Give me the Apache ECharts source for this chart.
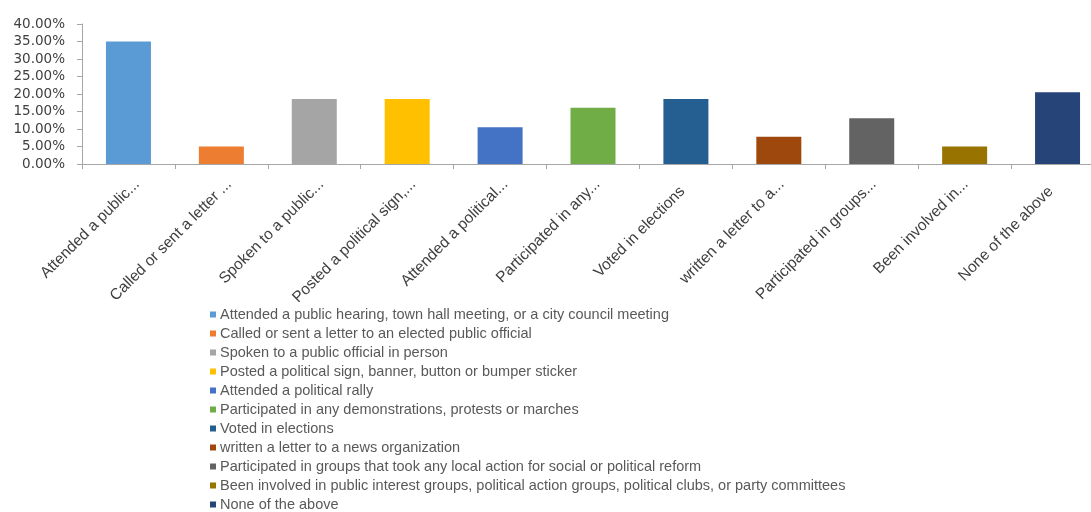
<!DOCTYPE html>
<html>
<head>
<meta charset="utf-8">
<script src="https://cdn.jsdelivr.net/npm/echarts@6/dist/echarts.min.js"></script>
<style>
  html, body { margin: 0; padding: 0; background: #fff; overflow: hidden; }
  /* the plot runs slightly past the right edge of the window */
  #chart { width: 1104px; height: 512px; }
</style>
</head>
<body>
<div id="chart"></div>
<script>
// Survey answers: share of respondents (%) who took each kind of civic action
const categories = [
  'Attended a public hearing, town hall meeting, or a city council meeting',
  'Called or sent a letter to an elected public official',
  'Spoken to a public official in person',
  'Posted a political sign, banner, button or bumper sticker',
  'Attended a political rally',
  'Participated in any demonstrations, protests or marches',
  'Voted in elections',
  'written a letter to a news organization',
  'Participated in groups that took any local action for social or political reform',
  'Been involved in public interest groups, political action groups, political clubs, or party committees',
  'None of the above'
];
const axisLabels = [
  'Attended a public...',
  'Called or sent a letter ...',
  'Spoken to a public...',
  'Posted a political sign,...',
  'Attended a political...',
  'Participated in any...',
  'Voted in elections',
  'written a letter to a...',
  'Participated in groups...',
  'Been involved in...',
  'None of the above'
];
const values = [35.0, 5.0, 18.6, 18.6, 10.5, 16.1, 18.6, 7.8, 13.1, 5.0, 20.5];
const colors = ['#5B9BD5', '#ED7D31', '#A5A5A5', '#FFC000', '#4472C4', '#70AD47',
                '#255E91', '#9E480E', '#636363', '#997300', '#264478'];
const yTicks = { min: 0, max: 40, interval: 5 };

// One series per answer so that each gets its own legend entry;
// stacking keeps every bar centred on its own category.
const series = categories.map((name, i) => ({
  name: name,
  type: 'bar',
  stack: 'all',
  barWidth: 45,
  itemStyle: { color: colors[i] },
  data: values.map((v, j) => (j === i ? v : null))
}));

// Shortened labels sit a little further along their slant than full ones.
const labelData = axisLabels.map(t => (
  t.endsWith('...') ? t : { value: t, textStyle: { padding: [0, 10, 0, 0] } }
));

const plotLeft = 82, plotTop = 24, plotBottom = 348;

const chart = echarts.init(document.getElementById('chart'), null, { renderer: 'canvas' });
chart.setOption({
  animation: false,
  grid: [
    { left: plotLeft, right: 0, top: plotTop, bottom: plotBottom },
    // label-only band, nudged right so the slanted text ends just past each bar centre
    { left: plotLeft + 9, right: -9, top: plotTop, bottom: plotBottom }
  ],
  xAxis: [
    {
      type: 'category',
      gridIndex: 0,
      data: axisLabels,
      axisLine: { lineStyle: { color: '#A6A6A6', width: 1 } },
      axisTick: { show: true, interval: 0, length: 5, lineStyle: { color: '#A6A6A6' } },
      axisLabel: { show: false, interval: 0 }
    },
    {
      type: 'category',
      gridIndex: 1,
      data: labelData,
      axisLine: { show: false },
      axisTick: { show: false },
      axisLabel: {
        interval: 0,
        rotate: 45,
        margin: 18,
        color: '#404040',
        fontFamily: 'Liberation Sans',
        fontSize: 15.5
      }
    }
  ],
  yAxis: [
    {
      type: 'value',
      gridIndex: 0,
      min: yTicks.min,
      max: yTicks.max,
      interval: yTicks.interval,
      splitLine: { show: false },
      axisLine: { show: true, lineStyle: { color: '#A6A6A6', width: 1 } },
      axisTick: { show: true, length: 5, lineStyle: { color: '#A6A6A6' } },
      axisLabel: {
        margin: 17,
        color: '#404040',
        fontFamily: 'DejaVu Sans',
        fontSize: 13.5,
        formatter: v => v.toFixed(2) + '%'
      }
    },
    {
      type: 'value',
      gridIndex: 1,
      min: yTicks.min,
      max: yTicks.max,
      show: false
    }
  ],
  legend: {
    orient: 'vertical',
    left: 205,
    top: 302,
    height: 210,
    itemWidth: 6,
    itemHeight: 6,
    itemGap: 4,
    icon: 'rect',
    selectedMode: false,
    textStyle: {
      color: '#595959',
      fontFamily: 'Liberation Sans',
      fontSize: 14.5,
      lineHeight: 15,
      padding: [0, 0, 0, -1]
    },
    data: categories
  },
  series: series
});
</script>
</body>
</html>
